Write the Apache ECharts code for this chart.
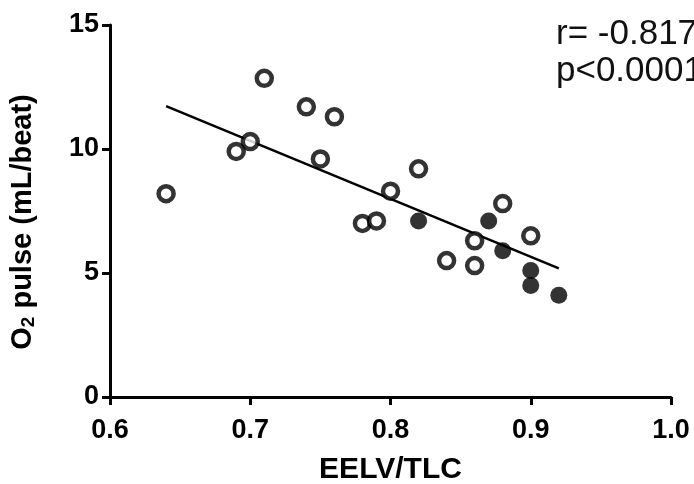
<!DOCTYPE html>
<html>
<head>
<meta charset="utf-8">
<script src="https://cdn.jsdelivr.net/npm/echarts@6/dist/echarts.min.js"></script>
<style>html,body{margin:0;padding:0;background:#fff}#c{width:694px;height:484px}</style>
</head>
<body>
<div id="c"></div>
<script>
// Open-circle subjects: [EELV/TLC, O2 pulse]
const openX = [0.64, 0.69, 0.70, 0.71, 0.74, 0.76, 0.75, 0.78, 0.79, 0.80, 0.82, 0.84, 0.86, 0.86, 0.88, 0.90];
const openY = [8.2, 9.9, 10.3, 12.85, 11.7, 11.3, 9.6, 7.0, 7.1, 8.3, 9.2, 5.5, 6.3, 5.3, 7.8, 6.5];
// Filled-circle subjects
const filledX = [0.82, 0.87, 0.88, 0.90, 0.90, 0.92];
const filledY = [7.1, 7.1, 5.9, 5.1, 4.5, 4.1];
// Regression line endpoints
const fitX = [0.64, 0.92];
const fitY = [11.73, 5.19];
const xTicks = [0.6, 0.7, 0.8, 0.9, 1.0];
const yTicks = [0, 5, 10, 15];
const statText = ['r= -0.817', 'p<0.0001'];

const zip = (a, b) => a.map((v, i) => [v, b[i]]);
const font = 'Arial, "Liberation Sans", Helvetica, sans-serif';
const ink = '#000';

const chart = echarts.init(document.getElementById('c'), null, {renderer: 'canvas'});
chart.setOption({
  animation: false,
  backgroundColor: '#fff',
  grid: {left: 110, right: 23, top: 25, bottom: 87, containLabel: false, outerBoundsMode: 'none'},
  xAxis: {
    type: 'value', min: 0.6, max: 1.0, interval: 0.1,
    name: 'EELV/TLC', nameLocation: 'middle', nameGap: 58,
    nameTextStyle: {fontFamily: font, fontWeight: 'bold', fontSize: 30, color: ink},
    axisLine: {show: true, onZero: false, lineStyle: {color: ink, width: 3}},
    axisTick: {show: true, inside: false, length: 8, lineStyle: {color: ink, width: 3}},
    axisLabel: {fontFamily: font, fontWeight: 'bold', fontSize: 27, color: ink, margin: 20,
      formatter: v => { const t = xTicks.find(x => Math.abs(x - v) < 1e-6); return t === undefined ? '' : t.toFixed(1); }},
    splitLine: {show: false}
  },
  yAxis: {
    type: 'value', min: 0, max: 15, interval: 5,
    name: '{b|O}{s|2}{b| pulse (mL/beat)}', nameLocation: 'middle', nameGap: 72, nameRotate: 90,
    nameTextStyle: {fontFamily: font, fontWeight: 'bold', fontSize: 29, color: ink, padding: [0, 22, 0, 0],
      rich: {
        b: {fontFamily: font, fontWeight: 'bold', fontSize: 29, color: ink},
        s: {fontFamily: font, fontWeight: 'bold', fontSize: 19, color: ink, verticalAlign: 'bottom', padding: [12, 0, 0, 0]}
      }},
    axisLine: {show: true, onZero: false, lineStyle: {color: ink, width: 3}},
    axisTick: {show: true, inside: false, length: 8, lineStyle: {color: ink, width: 3}},
    axisLabel: {fontFamily: font, fontWeight: 'bold', fontSize: 27, color: ink, margin: 11,
      formatter: v => yTicks.includes(v) ? String(v) : ''},
    splitLine: {show: false}
  },
  series: [
    {
      type: 'line', data: zip(fitX, fitY), showSymbol: false, symbol: 'none',
      lineStyle: {color: ink, width: 2.5}, z: 1, silent: true
    },
    {
      type: 'scatter', data: zip(openX, openY), symbol: 'circle', symbolSize: 15,
      itemStyle: {color: '#fff', borderColor: ink, borderWidth: 4.5}, z: 3
    },
    {
      type: 'scatter', data: zip(filledX, filledY), symbol: 'circle', symbolSize: 17,
      itemStyle: {color: ink, borderColor: ink, borderWidth: 0}, z: 4
    }
  ],
  graphic: [
    {type: 'text', left: 556, top: 17, style: {text: statText[0], font: '35px ' + font, fill: '#111'}},
    {type: 'text', left: 556, top: 54, style: {text: statText[1], font: '35px ' + font, fill: '#111'}}
  ]
});
</script>
</body>
</html>
